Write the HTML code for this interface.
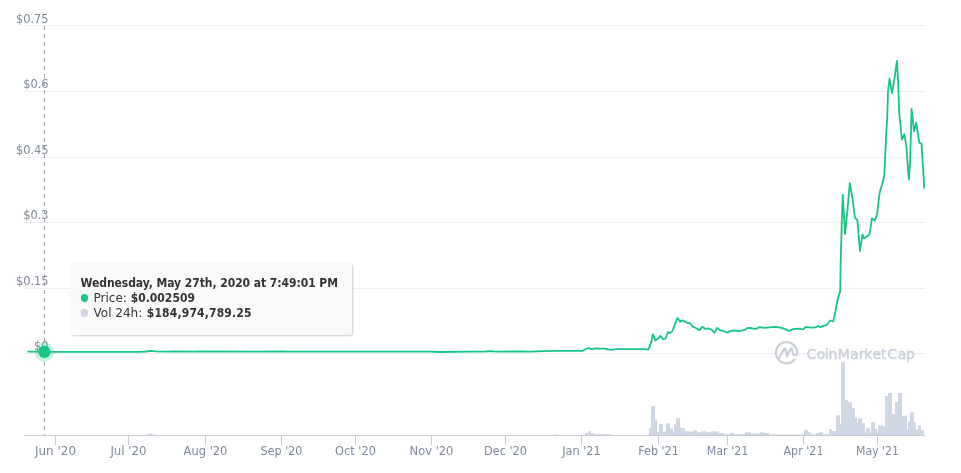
<!DOCTYPE html>
<html lang="en">
<head>
<meta charset="utf-8">
<title>Price chart</title>
<style>
html,body{margin:0;padding:0;background:#fff;}
body{width:961px;height:473px;overflow:hidden;position:relative;font-family:"DejaVu Sans","Liberation Sans",sans-serif;}
svg{position:absolute;left:0;top:0;display:block;}
svg text{font-family:"DejaVu Sans","Liberation Sans",sans-serif;}
.ylab{font-size:12px;fill:#808a9d;text-anchor:end;}
.xlab{font-size:12px;fill:#808a9d;text-anchor:middle;}
.wm{font-family:"DejaVu Sans","Liberation Sans",sans-serif;font-weight:normal;font-size:14px;fill:#ccd0da;stroke:#ccd0da;stroke-width:0.5px;stroke-linejoin:round;}
#tip{position:absolute;left:69.5px;top:263px;width:282.5px;height:72px;box-sizing:border-box;background:rgba(250,250,250,0.9);border-radius:3px;box-shadow:1px 1px 2px rgba(0,0,0,0.2);color:#333;font-size:12px;line-height:15px;padding:13px 0 0 11px;white-space:nowrap;}
#tip b{font-weight:bold;font-family:"DejaVu Sans Condensed","DejaVu Sans","Liberation Sans",sans-serif;}
#tip .dot{display:inline-block;width:7.4px;height:7.4px;border-radius:50%;margin:0 5.3px 0.4px 0.4px;vertical-align:baseline;}
</style>
</head>
<body>
<svg width="961" height="473" viewBox="0 0 961 473">
<rect x="0" y="0" width="961" height="473" fill="#ffffff"/>
<path d="M24 25.5H925" stroke="#eeeff2" stroke-width="1" fill="none"/><path d="M24 91.5H925" stroke="#eeeff2" stroke-width="1" fill="none"/><path d="M24 157.5H925" stroke="#eeeff2" stroke-width="1" fill="none"/><path d="M24 222.5H925" stroke="#eeeff2" stroke-width="1" fill="none"/><path d="M24 288.5H925" stroke="#eeeff2" stroke-width="1" fill="none"/><path d="M24 353.5H925" stroke="#eeeff2" stroke-width="1" fill="none"/>
<g fill="none" stroke="#cbcfd9" stroke-width="2.2" stroke-linecap="round" stroke-linejoin="round"><path d="M794.62 359.56A10.60 10.60 0 1 1 796.87 354.95"/><path d="M778.5 359.0L783.9 349.2Q785.0 347.4 785.7 349.5L786.9 356.2L790.3 349.2Q791.4 347.4 792.0 349.5L793.0 354.0Q793.8 356.4 797.1 354.2"/></g><text class="wm" x="806.4 816.8 824.8 828.6 837.7 850.0 858.8 864.2 872.4 881.0 887.3 897.7 906.0" y="358.7">CoinMarketCap</text>
<path d="M146 435.5V434.3H149V435.5ZM149 435.5V433.4H152V435.5ZM152 435.5V434.4H155V435.5ZM554 435.5V434.4H559V435.5ZM585 435.5V433.0H588V435.5ZM588 435.5V431.3H591V435.5ZM591 435.5V433.0H594V435.5ZM594 435.5V434.2H611V435.5ZM649 435.5V428.0H651V435.5ZM651 435.5V405.9H655V435.5ZM655 435.5V419.6H657V435.5ZM657 435.5V432.0H659V435.5ZM659 435.5V424.0H663V435.5ZM663 435.5V431.8H666V435.5ZM666 435.5V423.3H670V435.5ZM670 435.5V428.6H673V435.5ZM673 435.5V431.8H674V435.5ZM674 435.5V424.4H676V435.5ZM676 435.5V418.0H680V435.5ZM680 435.5V427.2H682V435.5ZM682 435.5V428.3H685V435.5ZM685 435.5V431.2H690V435.5ZM690 435.5V431.8H693V435.5ZM693 435.5V430.2H697V435.5ZM697 435.5V432.3H701V435.5ZM701 435.5V431.2H707V435.5ZM707 435.5V432.3H711V435.5ZM711 435.5V431.2H719V435.5ZM719 435.5V433.0H724V435.5ZM724 435.5V434.2H730V435.5ZM730 435.5V433.0H734V435.5ZM734 435.5V434.2H745V435.5ZM745 435.5V432.3H751V435.5ZM751 435.5V433.5H760V435.5ZM760 435.5V432.3H764V435.5ZM764 435.5V433.1H769V435.5ZM769 435.5V434.4H804V435.5ZM804 435.5V430.1H808V435.5ZM808 435.5V432.3H811V435.5ZM811 435.5V434.2H816V435.5ZM816 435.5V433.0H819V435.5ZM819 435.5V432.3H823V435.5ZM823 435.5V434.3H829V435.5ZM829 435.5V429.2H832V435.5ZM832 435.5V431.0H836V435.5ZM836 435.5V415.2H840V435.5ZM840 435.5V424.0H841V435.5ZM841 435.5V362.3H845V435.5ZM845 435.5V400.3H848V435.5ZM848 435.5V402.2H852V435.5ZM852 435.5V408.2H855V435.5ZM855 435.5V417.5H857V435.5ZM857 435.5V423.0H858V435.5ZM858 435.5V418.5H862V435.5ZM862 435.5V423.2H865V435.5ZM865 435.5V432.4H866V435.5ZM866 435.5V428.3H870V435.5ZM870 435.5V432.4H871V435.5ZM871 435.5V422.3H875V435.5ZM875 435.5V429.0H877V435.5ZM877 435.5V432.4H878V435.5ZM878 435.5V425.4H884V435.5ZM884 435.5V427.0H885V435.5ZM885 435.5V396.0H888V435.5ZM888 435.5V393.1H892V435.5ZM892 435.5V414.1H895V435.5ZM895 435.5V402.0H898V435.5ZM898 435.5V393.1H902V435.5ZM902 435.5V415.8H907V435.5ZM907 435.5V429.5H908V435.5ZM908 435.5V421.3H910V435.5ZM910 435.5V412.3H914V435.5ZM914 435.5V422.2H916V435.5ZM916 435.5V429.5H918V435.5ZM918 435.5V425.3H921V435.5ZM921 435.5V429.8H924V435.5Z" fill="#cfd6e4"/>
<path d="M24 435.5H925" stroke="#c8ccd8" stroke-width="1" fill="none"/><path d="M55.5 436V445M128.5 436V445M205.5 436V445M281.5 436V445M355.5 436V445M431.5 436V445M505.5 436V445M581.5 436V445M658.5 436V445M727.5 436V445M803.5 436V445M877.5 436V445" stroke="#c8ccd8" stroke-width="1" fill="none"/>
<text class="xlab" x="55.5" y="455" textLength="41.2" lengthAdjust="spacingAndGlyphs">Jun &#39;20</text><text class="xlab" x="128.5" y="455" textLength="36.2" lengthAdjust="spacingAndGlyphs">Jul &#39;20</text><text class="xlab" x="205.5" y="455" textLength="43.8" lengthAdjust="spacingAndGlyphs">Aug &#39;20</text><text class="xlab" x="281.5" y="455" textLength="41.8" lengthAdjust="spacingAndGlyphs">Sep &#39;20</text><text class="xlab" x="355.5" y="455" textLength="40.8" lengthAdjust="spacingAndGlyphs">Oct &#39;20</text><text class="xlab" x="431.5" y="455" textLength="43.8" lengthAdjust="spacingAndGlyphs">Nov &#39;20</text><text class="xlab" x="505.5" y="455" textLength="42.8" lengthAdjust="spacingAndGlyphs">Dec &#39;20</text><text class="xlab" x="581.5" y="455" textLength="38.5" lengthAdjust="spacingAndGlyphs">Jan &#39;21</text><text class="xlab" x="658.5" y="455" textLength="40.5" lengthAdjust="spacingAndGlyphs">Feb &#39;21</text><text class="xlab" x="727.5" y="455" textLength="41.5" lengthAdjust="spacingAndGlyphs">Mar &#39;21</text><text class="xlab" x="803.5" y="455" textLength="40.0" lengthAdjust="spacingAndGlyphs">Apr &#39;21</text><text class="xlab" x="877.5" y="455" textLength="43.0" lengthAdjust="spacingAndGlyphs">May &#39;21</text>
<text class="ylab" x="48.6" y="22.8" textLength="32.6" lengthAdjust="spacingAndGlyphs">$0.75</text><text class="ylab" x="48.6" y="87.9" textLength="25.4" lengthAdjust="spacingAndGlyphs">$0.6</text><text class="ylab" x="48.6" y="153.6" textLength="32.6" lengthAdjust="spacingAndGlyphs">$0.45</text><text class="ylab" x="48.6" y="219.0" textLength="25.4" lengthAdjust="spacingAndGlyphs">$0.3</text><text class="ylab" x="48.6" y="284.5" textLength="32.6" lengthAdjust="spacingAndGlyphs">$0.15</text><text class="ylab" x="48.6" y="349.5" textLength="14.5" lengthAdjust="spacingAndGlyphs">$0</text>
<path d="M44.5 26V435" stroke="#999999" stroke-width="1" stroke-dasharray="4 4" fill="none"/>
<polyline fill="none" stroke="#16c784" stroke-width="1.8" stroke-linejoin="round" stroke-linecap="round" points="28.1,351.7 44.5,351.8 100.0,351.8 140.0,351.8 146.0,351.5 151.0,350.8 156.0,351.3 165.0,351.6 175.0,351.4 195.0,351.7 200.0,351.4 260.0,351.6 280.0,351.4 290.0,351.6 360.0,351.7 430.0,351.7 440.0,352.0 470.0,351.6 485.0,351.5 491.0,351.1 496.0,351.6 520.0,351.4 530.0,351.6 545.0,351.2 560.0,350.9 582.8,350.8 586.2,348.7 588.8,348.1 591.3,349.1 596.4,348.4 600.6,348.7 604.8,348.6 609.1,349.6 613.3,349.6 615.8,349.1 627.7,349.1 634.5,349.2 645.1,349.2 648.2,349.7 650.8,343.8 652.8,334.3 655.4,340.4 658.3,338.3 660.3,335.9 663.1,339.2 665.7,338.5 667.9,332.0 670.1,333.1 672.6,330.6 675.2,323.6 677.5,318.0 680.2,321.8 682.6,320.3 685.6,321.9 687.6,323.1 690.1,323.2 692.6,326.6 695.3,327.8 699.6,330.1 702.4,326.6 704.9,328.8 708.7,328.5 711.5,329.7 714.5,332.9 717.0,327.9 719.5,329.8 723.1,330.8 727.2,332.7 730.1,331.1 733.9,330.5 739.0,331.1 744.1,330.2 747.2,328.2 749.9,328.0 755.6,328.8 760.1,327.2 764.0,327.8 775.4,326.8 780.5,327.7 785.5,329.1 788.7,330.9 793.1,329.1 798.2,328.7 803.3,329.3 805.8,326.8 810.9,327.7 815.4,327.4 817.9,326.2 820.4,327.1 823.0,325.9 826.1,325.3 828.0,323.6 830.2,320.5 833.1,321.5 835.0,314.1 836.9,302.7 838.2,297.0 840.2,291.4 840.6,265.4 841.3,240.0 841.9,218.1 842.8,195.0 845.0,233.9 847.3,211.7 849.8,183.2 852.4,197.8 854.9,217.4 857.4,220.4 860.0,250.8 862.5,234.6 864.0,238.4 869.5,234.6 872.0,218.1 874.6,220.6 877.1,214.3 879.6,192.7 883.0,181.0 884.4,174.6 885.1,158.1 886.3,132.7 887.2,118.0 888.0,91.9 889.5,78.6 892.0,93.1 894.6,77.9 896.9,60.8 898.1,81.7 899.2,112.0 901.9,139.7 904.3,134.4 906.6,147.9 907.3,160.0 908.9,179.8 910.2,159.0 911.6,109.0 914.0,131.2 916.2,122.6 919.3,142.8 921.5,143.5 923.8,180.0 924.1,187.6"/>
<circle cx="44.5" cy="351.9" r="9.6" fill="#16c784" fill-opacity="0.25"/><circle cx="44.5" cy="351.9" r="6.1" fill="#16c784"/>
</svg>
<div id="tip"><b style="letter-spacing:-0.05px">Wednesday, May 27th, 2020 at 7:49:01 PM</b><br><span class="dot" style="background:#16c784"></span>Price: <b>$0.002509</b><br><span class="dot" style="background:#cfd6e4"></span>Vol 24h: <b style="letter-spacing:0.16px;margin-left:0.7px">$184,974,789.25</b></div>
</body>
</html>
